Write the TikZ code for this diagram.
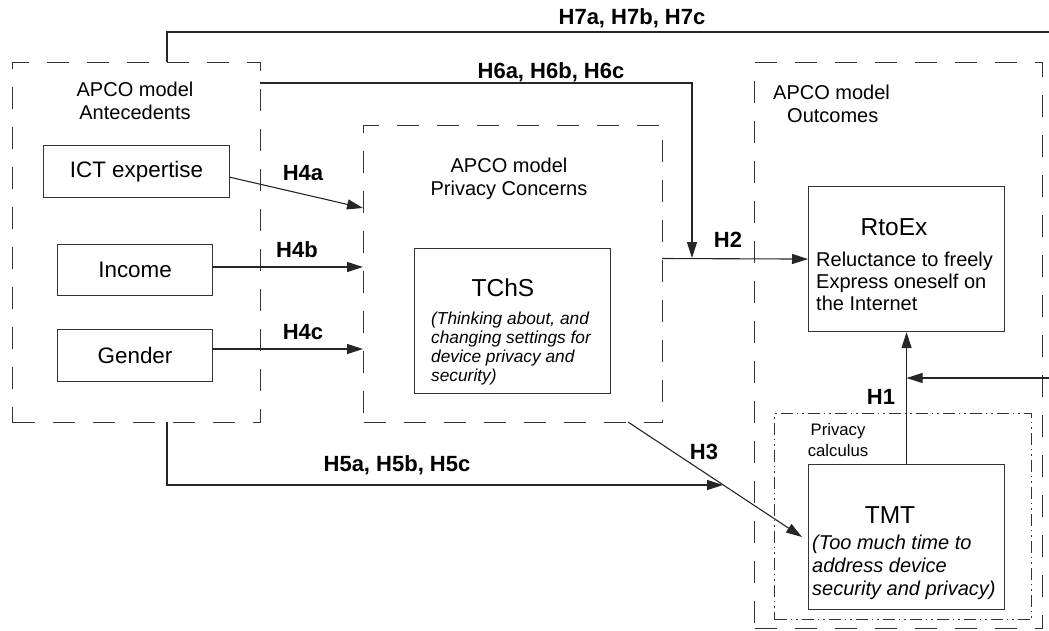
\documentclass[tikz,border=0pt]{standalone}
\usepackage{fontspec}
\setmainfont{Liberation Sans}
\usetikzlibrary{arrows.meta}
\tikzset{
  grp/.style={draw=black!75, line width=1.1pt, dash pattern=on 22pt off 18pt},
  calcbox/.style={draw=black!75, line width=1pt, dash pattern=on 12pt off 4pt on 1.5pt off 4pt on 1.5pt off 4pt},
  box/.style={draw=black!80, line width=1.1pt, anchor=north west, inner sep=0pt},
  conn/.style={draw=black!85, line width=1.1pt},
  arr/.style={conn, -{Triangle[length=16pt,width=10pt]}},
  hlab/.style={font=\fontsize{22}{24}\selectfont\bfseries, inner sep=0pt},
  grptxt/.style={font=\fontsize{20}{23}\selectfont, inner sep=0pt, align=center},
  boxtxt/.style={font=\fontsize{22.4}{25}\selectfont},
  ttl/.style={font=\fontsize{24.5}{27}\selectfont, inner sep=0pt},
  bodyi/.style={inner sep=0pt, anchor=west, align=left}
}
\begin{document}
\begin{tikzpicture}[x=1pt,y=-1pt]
\useasboundingbox (0,0) rectangle (1049,630);

% group boxes
\node[grp, box, minimum width=248pt, minimum height=360pt] (ante) at (12,62) {};
\node[grp, box, minimum width=299pt, minimum height=297pt] (pc) at (363,125) {};
\node[grp, box, minimum width=288pt, minimum height=566pt] (out) at (754,62) {};
\node[calcbox, box, minimum width=257pt, minimum height=206pt] (calc) at (774,413) {};

% group titles
\node[grptxt] (anteT) at (135,101) {APCO model\\Antecedents};
\node[grptxt] (pcT) at (509,179) {APCO model\\Privacy Concerns};
\node[grptxt, anchor=west, align=left] (outT) at (773,104) {APCO model\\\hspace*{14pt}Outcomes};
\node[inner sep=0pt, align=center, font=\fontsize{16.7}{21}\selectfont] (calcT) at (838,440) {Privacy\\calculus};

% inner boxes
\node[box, boxtxt, minimum width=186pt, minimum height=52pt] (ict) at (43,145) {ICT expertise};
\node[box, boxtxt, minimum width=155pt, minimum height=51pt] (inc) at (57,244) {Income};
\node[box, boxtxt, minimum width=155pt, minimum height=52pt] (gen) at (57,329) {Gender};
\node[box, minimum width=196pt, minimum height=145pt] (tchs) at (414,248) {};
\node[box, minimum width=196pt, minimum height=145pt] (rtoex) at (808,186) {};
\node[box, minimum width=196pt, minimum height=145pt] (tmt) at (808,464) {};

% box texts
\node[ttl] (tchsT) at (503,288) {TChS};
\node[bodyi, font=\fontsize{17.3}{19}\selectfont\itshape] (tchsB) at (431,349) {(Thinking about, and\\changing settings for\\device privacy and\\security)};
\node[ttl] (rtoexT) at (894,227) {RtoEx};
\node[bodyi, font=\fontsize{20}{22}\selectfont] (rtoexB) at (816,281) {Reluctance to freely\\Express oneself on\\the Internet};
\node[ttl] (tmtT) at (890,515) {TMT};
\node[bodyi, font=\fontsize{20}{23}\selectfont\itshape] (tmtB) at (812,567) {(Too much time to\\address device\\security and privacy)};

% connector end points
\coordinate (h4aS) at (229,177);
\coordinate (h4aE) at (363,208);
\coordinate (h4bS) at (212,267);
\coordinate (h4bE) at (363,267);
\coordinate (h4cS) at (212,349);
\coordinate (h4cE) at (363,349);
\coordinate (h6S) at (260,83);
\coordinate (h6E) at (692,258);
\coordinate (h2S) at (662,258.5);
\coordinate (h7S) at (167,62);
\coordinate (h7E) at (1049,32);
\coordinate (h7R) at (1049,378);
\coordinate (h5S) at (167,422);
\coordinate (h5E) at (723,485);
\coordinate (h3S) at (628,422);
\coordinate (h3E) at (802,537);

% connectors
\draw[arr] (h4aS) -- (h4aE);
\draw[arr] (h4bS) -- (h4bE);
\draw[arr] (h4cS) -- (h4cE);
\draw[arr] (h6S) -| (h6E);
\draw[arr] (h2S) -- (rtoex.west);
\draw[arr] (tmt.north) -- (tmt.north |- rtoex.south);
\draw[conn] (h7S) |- (h7E);
\draw[arr] (h7R) -- (h7R -| tmt.north);
\draw[arr] (h5S) |- (h5E);
\draw[arr] (h3S) -- (h3E);

% labels
\node[hlab] (l7) at (632,18) {H7a, H7b, H7c};
\node[hlab] (l6) at (551,72) {H6a, H6b, H6c};
\node[hlab] (l4a) at (303,173) {H4a};
\node[hlab] (l4b) at (297,250) {H4b};
\node[hlab] (l4c) at (303,332) {H4c};
\node[hlab] (l2) at (728,240) {H2};
\node[hlab] (l1) at (881,397) {H1};
\node[hlab] (l3) at (704,452) {H3};
\node[hlab] (l5) at (397,465) {H5a, H5b, H5c};
\end{tikzpicture}
\end{document}
